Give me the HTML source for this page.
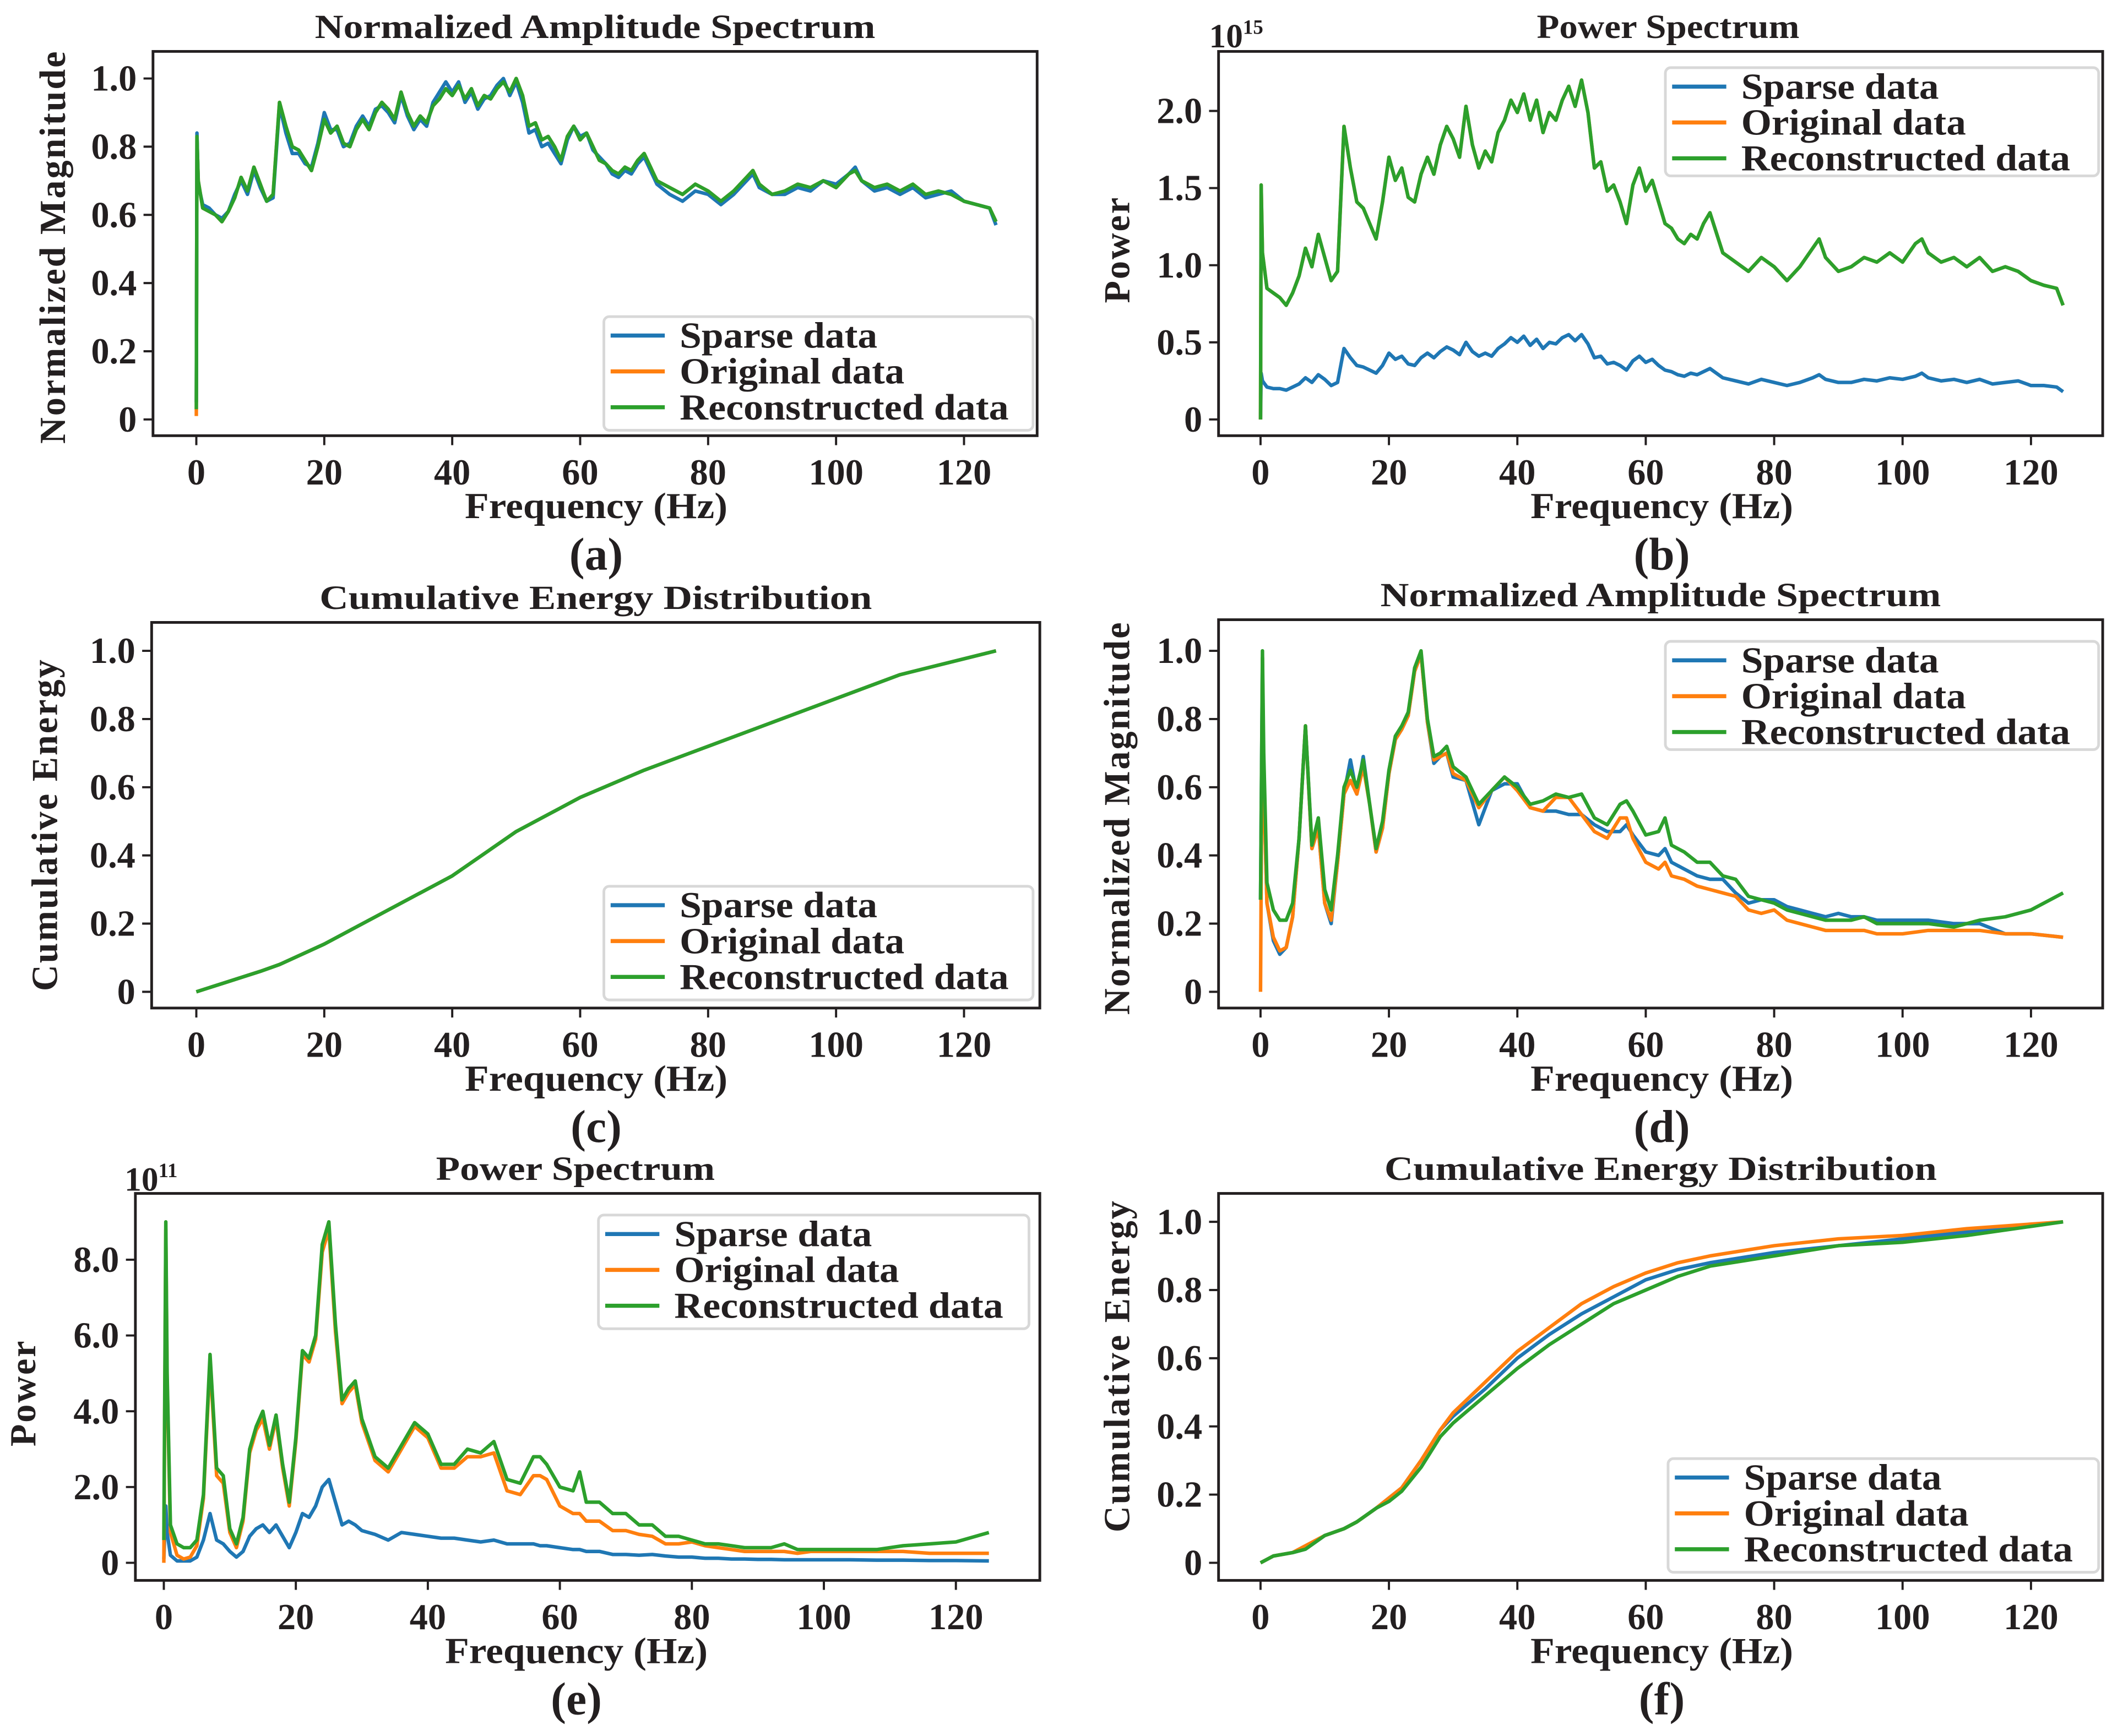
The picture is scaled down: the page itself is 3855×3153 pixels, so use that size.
<!DOCTYPE html>
<html><head><meta charset="utf-8"><style>
html,body{margin:0;padding:0;background:#fff}
svg{display:block}
text{font-family:"Liberation Serif",serif;font-weight:bold;fill:#231f20}
</style></head><body>
<svg id="fig" width="3855" height="3153" viewBox="0 0 1568 1283" preserveAspectRatio="none" xmlns="http://www.w3.org/2000/svg"></svg>
<script>
// ---- data ----
const freqA = [0,0.1,0.3,1,2,3,4,5,6,7,8,9,10,11,12,13,14,15,16,17,18,19,20,21,22,23,24,25,26,27,28,29,30,31,32,33,34,35,36,37,38,39,40,41,42,43,44,45,46,47,48,49,50,51,52,53,54,55,56,57,58,59,60,61,62,63,64,65,66,67,68,69,70,72,74,76,78,80,82,84,86,87,88,90,92,94,96,98,100,102,103,104,106,108,110,112,114,116,118,120,122,124,125];
const aRecon = [0.03,0.83,0.70,0.62,0.61,0.60,0.58,0.61,0.65,0.71,0.67,0.74,0.69,0.64,0.66,0.93,0.86,0.80,0.79,0.76,0.73,0.80,0.88,0.84,0.86,0.81,0.80,0.85,0.88,0.85,0.90,0.93,0.91,0.88,0.96,0.90,0.86,0.89,0.87,0.92,0.94,0.97,0.95,0.98,0.94,0.97,0.92,0.95,0.94,0.97,0.99,0.96,1.0,0.95,0.86,0.87,0.82,0.83,0.80,0.76,0.83,0.86,0.82,0.84,0.80,0.76,0.75,0.73,0.72,0.74,0.73,0.76,0.78,0.70,0.68,0.66,0.69,0.67,0.64,0.67,0.71,0.73,0.69,0.66,0.67,0.69,0.68,0.70,0.68,0.72,0.73,0.70,0.68,0.69,0.67,0.69,0.66,0.67,0.66,0.64,0.63,0.62,0.58];
const aOrig = [0.01,0.83,0.70,0.62,0.61,0.60,0.58,0.61,0.65,0.71,0.67,0.74,0.69,0.64,0.66,0.93,0.86,0.80,0.79,0.76,0.73,0.80,0.88,0.84,0.86,0.81,0.80,0.85,0.88,0.85,0.90,0.93,0.91,0.88,0.96,0.90,0.86,0.89,0.87,0.92,0.94,0.97,0.95,0.98,0.94,0.97,0.92,0.95,0.94,0.97,0.99,0.96,1.0,0.95,0.86,0.87,0.82,0.83,0.80,0.76,0.83,0.86,0.82,0.84,0.80,0.76,0.75,0.73,0.72,0.74,0.73,0.76,0.78,0.70,0.68,0.66,0.69,0.67,0.64,0.67,0.71,0.73,0.69,0.66,0.67,0.69,0.68,0.70,0.68,0.72,0.73,0.70,0.68,0.69,0.67,0.69,0.66,0.67,0.66,0.64,0.63,0.62,0.58];
const aSparse = [0.05,0.84,0.69,0.63,0.62,0.60,0.59,0.61,0.66,0.70,0.66,0.73,0.68,0.64,0.65,0.92,0.84,0.78,0.78,0.75,0.74,0.81,0.90,0.85,0.85,0.80,0.81,0.86,0.89,0.86,0.91,0.92,0.90,0.87,0.95,0.89,0.85,0.88,0.86,0.93,0.96,0.99,0.96,0.99,0.93,0.96,0.91,0.94,0.95,0.98,1.0,0.95,0.99,0.93,0.84,0.85,0.80,0.81,0.78,0.75,0.82,0.86,0.83,0.84,0.79,0.77,0.75,0.72,0.71,0.73,0.72,0.75,0.77,0.69,0.66,0.64,0.67,0.66,0.63,0.66,0.70,0.72,0.68,0.66,0.66,0.68,0.67,0.70,0.69,0.72,0.74,0.70,0.67,0.68,0.66,0.68,0.65,0.66,0.67,0.64,0.63,0.62,0.57];
const bRecon = [0.0,1.52,1.08,0.85,0.82,0.79,0.74,0.82,0.93,1.11,0.99,1.20,1.05,0.90,0.96,1.90,1.63,1.41,1.37,1.27,1.17,1.41,1.70,1.55,1.63,1.44,1.41,1.59,1.70,1.59,1.78,1.90,1.82,1.70,2.03,1.78,1.63,1.74,1.67,1.86,1.94,2.07,1.99,2.11,1.94,2.07,1.86,1.99,1.94,2.07,2.16,2.03,2.20,1.99,1.63,1.67,1.48,1.52,1.41,1.27,1.52,1.63,1.48,1.55,1.41,1.27,1.24,1.17,1.14,1.20,1.17,1.27,1.34,1.08,1.02,0.96,1.05,0.99,0.90,0.99,1.11,1.17,1.05,0.96,0.99,1.05,1.02,1.08,1.02,1.14,1.17,1.08,1.02,1.05,0.99,1.05,0.96,0.99,0.96,0.90,0.87,0.85,0.74];
const bSparse = [0.0,0.30,0.25,0.21,0.20,0.20,0.19,0.21,0.23,0.27,0.24,0.29,0.26,0.22,0.24,0.46,0.40,0.35,0.34,0.32,0.30,0.35,0.43,0.39,0.41,0.36,0.35,0.40,0.43,0.40,0.44,0.47,0.45,0.42,0.50,0.44,0.41,0.43,0.41,0.46,0.49,0.53,0.50,0.54,0.48,0.52,0.46,0.50,0.49,0.53,0.55,0.51,0.55,0.49,0.40,0.41,0.36,0.37,0.35,0.32,0.38,0.41,0.37,0.39,0.35,0.32,0.31,0.29,0.28,0.30,0.29,0.31,0.33,0.27,0.25,0.23,0.26,0.24,0.22,0.24,0.27,0.29,0.26,0.24,0.24,0.26,0.25,0.27,0.26,0.28,0.30,0.27,0.25,0.26,0.24,0.26,0.23,0.24,0.25,0.22,0.22,0.21,0.18];
const freqC = [0,5,10,13,20,30,40,50,55,60,70,80,90,100,110,125];
const cCum = [0,0.03,0.06,0.08,0.14,0.24,0.34,0.47,0.52,0.57,0.65,0.72,0.79,0.86,0.93,1.0];
const freqD = [0,0.3,0.5,1,2,3,4,5,6,7,8,9,10,11,12,13,14,15,16,17,18,19,20,21,22,23,24,25,26,27,28,29,30,32,34,36,38,40,42,44,46,48,50,52,54,56,57,58,60,62,63,64,66,68,70,72,74,76,78,80,82,84,86,88,90,92,94,96,98,100,104,108,112,116,120,125];
const dSparse = [0.27,0.98,0.6,0.26,0.15,0.11,0.13,0.22,0.45,0.78,0.42,0.48,0.26,0.20,0.38,0.58,0.68,0.58,0.69,0.55,0.41,0.48,0.64,0.74,0.77,0.81,0.94,0.99,0.79,0.67,0.69,0.70,0.63,0.62,0.49,0.59,0.61,0.61,0.54,0.53,0.53,0.52,0.52,0.49,0.47,0.47,0.49,0.46,0.41,0.40,0.42,0.38,0.36,0.34,0.33,0.33,0.29,0.26,0.27,0.27,0.25,0.24,0.23,0.22,0.23,0.22,0.22,0.21,0.21,0.21,0.21,0.20,0.20,0.17,0.17,0.16];
const dOrig = [0.0,0.98,0.6,0.26,0.16,0.12,0.13,0.22,0.45,0.78,0.42,0.48,0.26,0.21,0.38,0.58,0.62,0.58,0.66,0.55,0.41,0.48,0.64,0.74,0.77,0.81,0.94,0.99,0.79,0.68,0.69,0.70,0.64,0.62,0.54,0.59,0.63,0.59,0.54,0.53,0.57,0.57,0.52,0.47,0.45,0.51,0.51,0.45,0.38,0.36,0.38,0.34,0.33,0.31,0.30,0.29,0.28,0.24,0.23,0.24,0.21,0.20,0.19,0.18,0.18,0.18,0.18,0.17,0.17,0.17,0.18,0.18,0.18,0.17,0.17,0.16];
const dRecon = [0.27,1.0,0.7,0.32,0.24,0.21,0.21,0.26,0.45,0.78,0.43,0.51,0.30,0.24,0.40,0.60,0.65,0.60,0.68,0.55,0.42,0.50,0.65,0.75,0.78,0.82,0.95,1.0,0.80,0.69,0.70,0.72,0.66,0.63,0.55,0.59,0.63,0.60,0.55,0.56,0.58,0.57,0.58,0.51,0.49,0.55,0.56,0.53,0.46,0.47,0.51,0.43,0.41,0.38,0.38,0.34,0.33,0.28,0.27,0.26,0.24,0.23,0.22,0.21,0.21,0.21,0.22,0.20,0.20,0.20,0.20,0.19,0.21,0.22,0.24,0.29];
const eSparse = [0.1,1.5,0.8,0.2,0.05,0.05,0.05,0.15,0.6,1.3,0.6,0.5,0.3,0.15,0.3,0.7,0.9,1.0,0.8,1.0,0.7,0.4,0.8,1.3,1.2,1.5,2.0,2.2,1.6,1.0,1.1,1.0,0.85,0.75,0.6,0.8,0.75,0.7,0.65,0.65,0.6,0.55,0.6,0.5,0.5,0.5,0.45,0.45,0.4,0.35,0.35,0.3,0.3,0.22,0.22,0.2,0.22,0.18,0.15,0.15,0.12,0.12,0.1,0.1,0.09,0.09,0.08,0.08,0.08,0.08,0.08,0.07,0.07,0.06,0.06,0.05];
const eOrig = [0.0,8.8,4.8,0.8,0.2,0.1,0.15,0.45,1.7,5.3,2.3,2.1,0.8,0.4,1.1,2.9,3.5,3.8,3.0,3.8,2.5,1.5,3.2,5.5,5.3,5.9,8.2,8.8,6.1,4.2,4.5,4.7,3.7,2.7,2.4,3.0,3.6,3.3,2.5,2.5,2.8,2.8,2.9,1.9,1.8,2.3,2.3,2.2,1.5,1.3,1.3,1.1,1.1,0.85,0.85,0.75,0.7,0.5,0.5,0.55,0.45,0.4,0.35,0.3,0.3,0.3,0.3,0.25,0.3,0.3,0.3,0.3,0.3,0.25,0.25,0.25];
const eRecon = [0.6,9.0,5.0,1.0,0.5,0.4,0.4,0.6,1.8,5.5,2.5,2.3,0.9,0.5,1.2,3.0,3.6,4.0,3.1,3.9,2.6,1.6,3.3,5.6,5.4,6.0,8.4,9.0,6.3,4.3,4.6,4.8,3.8,2.8,2.5,3.1,3.7,3.4,2.6,2.6,3.0,2.9,3.2,2.2,2.1,2.8,2.8,2.6,2.0,1.9,2.4,1.6,1.6,1.3,1.3,1.0,1.0,0.7,0.7,0.6,0.5,0.5,0.45,0.4,0.4,0.4,0.5,0.35,0.35,0.35,0.35,0.35,0.45,0.5,0.55,0.8];
const freqF = [0,2,5,7,10,13,15,18,20,22,25,28,30,35,40,45,50,55,60,65,70,80,90,100,110,125];
const fSparse = [0,0.02,0.03,0.04,0.08,0.10,0.12,0.16,0.19,0.22,0.30,0.39,0.43,0.51,0.60,0.67,0.73,0.78,0.83,0.86,0.88,0.91,0.93,0.95,0.97,1.0];
const fOrig = [0,0.02,0.03,0.05,0.08,0.10,0.12,0.16,0.19,0.22,0.30,0.39,0.44,0.53,0.62,0.69,0.76,0.81,0.85,0.88,0.90,0.93,0.95,0.96,0.98,1.0];
const fRecon = [0,0.02,0.03,0.04,0.08,0.10,0.12,0.16,0.18,0.21,0.28,0.37,0.41,0.49,0.57,0.64,0.70,0.76,0.80,0.84,0.87,0.90,0.93,0.94,0.96,1.0];
const xTicks = [0,20,40,60,80,100,120];
const yTicksNorm = [0,0.2,0.4,0.6,0.8,1.0];
const yTickLabelsNorm = ["0","0.2","0.4","0.6","0.8","1.0"];
const yTicksB = [0,0.5,1.0,1.5,2.0];
const yTickLabelsB = ["0","0.5","1.0","1.5","2.0"];
const yTicksE = [0,2,4,6,8];
const yTickLabelsE = ["0","2.0","4.0","6.0","8.0"];
const legendLabels = ["Sparse data","Original data","Reconstructed data"];
const COLORS = ["#1f77b4","#ff7f0e","#2ca02c"];

// ---- drawing ----
const NS="http://www.w3.org/2000/svg";
const svg=document.getElementById('fig');
function mk(tag,attrs,parent){const e=document.createElementNS(NS,tag);for(const k in attrs)e.setAttribute(k,attrs[k]);(parent||svg).appendChild(e);return e;}
function txt(s,attrs,parent){const e=mk('text',attrs,parent);e.textContent=s;return e;}

function panel(cfg){
  const g=mk('g',{});
  
  
  const [L,T,R,B]=cfg.frame;
  const xs=f=>cfg.x0+f*cfg.kx;
  const ys=v=>cfg.y0-v*cfg.ky;
  // series
  cfg.series.forEach((s,i)=>{
    let d='';
    s.vals.forEach((v,j)=>{d+=(j?'L':'M')+xs(s.freq[j]).toFixed(2)+' '+ys(v).toFixed(2);});
    const p=mk('path',{d:d,fill:'none',stroke:COLORS[s.c],'stroke-width':2.6,'stroke-linejoin':'round'},g);
    
    
  });
  // frame
  const fr=mk('rect',{x:L,y:T,width:R-L,height:B-T,fill:'none',stroke:'#231f20','stroke-width':2},g);
  
  
  // x ticks
  xTicks.forEach(t=>{
    const x=xs(t);
    mk('line',{x1:x,x2:x,y1:B,y2:B+7,stroke:'#231f20','stroke-width':1.6},g);
    const tl=txt(String(t),{x:x,y:B+36,'font-size':27,'text-anchor':'middle'},g);
    
    
  });
  cfg.yt.forEach((t,i)=>{
    const y=ys(t);
    mk('line',{x1:L-7,x2:L,y1:y,y2:y,stroke:'#231f20','stroke-width':1.6},g);
    const tl=txt(cfg.ytl[i],{x:L-12,y:y+9,'font-size':27,'text-anchor':'end'},g);
    
    
  });
  const cx=(L+R)/2;
  const ti=txt(cfg.title,{x:cfg.titleX||cx,y:T-10,'font-size':25,'text-anchor':'middle',textLength:cfg.titleLen,lengthAdjust:'spacingAndGlyphs'},g);
  
  
  const xl=txt('Frequency (Hz)',{x:cfg.x0+62.5*cfg.kx,y:B+61,'font-size':27,'text-anchor':'middle',textLength:194,lengthAdjust:'spacingAndGlyphs'},g);
  
  
  const yl=txt(cfg.ylab,{x:0,y:0,'font-size':27,'text-anchor':'middle',textLength:cfg.ylen,lengthAdjust:'spacing',transform:`translate(${cfg.ylx},${cfg.lyc}) rotate(-90)`},g);
  
  
  const sl=txt('('+cfg.id+')',{x:cfg.x0+62.5*cfg.kx,y:B+99,'font-size':34,'text-anchor':'middle'},g);
  
  
  if(cfg.exp){
    const ex=txt('10',{x:cfg.exp[0],y:cfg.exp[1],'font-size':25},g);
    
    
    const ts=mk('tspan',{dy:-10,'font-size':15},ex);ts.textContent=cfg.expv;
  }
  // legend
  const [lx,ly,lw,lh]=cfg.leg;
  const lg=mk('g',{},g);
  
  
  mk('rect',{x:lx,y:ly,width:lw,height:lh,rx:4,fill:'#fff','fill-opacity':0.85,stroke:'#d8d8d8','stroke-width':2},lg);
  legendLabels.forEach((lab,i)=>{
    const yy=ly+14+i*26.5;
    const ln=mk('line',{x1:lx+5,x2:lx+45,y1:yy,y2:yy,stroke:COLORS[i],'stroke-width':3},lg);
    
    
    const lens=[146,166,243];
    const t=txt(lab,{x:lx+56,y:yy+9,'font-size':27,textLength:lens[i],lengthAdjust:'spacingAndGlyphs'},lg);
    
    
  });
}

panel({id:'a',frame:[113,38,766,322],x0:145,kx:4.725,y0:310,ky:252,yt:yTicksNorm,ytl:yTickLabelsNorm,
  title:'Normalized Amplitude Spectrum',titleLen:414,ylab:'Normalized Magnitude',ylen:290,ylx:48,lyc:183,
  leg:[446,234,317,84],
  series:[{freq:freqA,vals:aOrig,c:1},{freq:freqA,vals:aSparse,c:0},{freq:freqA,vals:aRecon,c:2}]});
panel({id:'b',frame:[900,38,1553,322],x0:931,kx:4.742,y0:310,ky:114,yt:yTicksB,ytl:yTickLabelsB,
  title:'Power Spectrum',titleLen:194,titleX:1232,ylab:'Power',ylen:78,ylx:834,lyc:185,exp:[893,35],expv:'15',
  leg:[1230,50,320,80],
  series:[{freq:freqA,vals:bSparse,c:0},{freq:freqA,vals:bRecon,c:1},{freq:freqA,vals:bRecon,c:2}]});
panel({id:'c',frame:[112,460,768,745],x0:145,kx:4.725,y0:733,ky:252,yt:yTicksNorm,ytl:yTickLabelsNorm,
  title:'Cumulative Energy Distribution',titleLen:408,ylab:'Cumulative Energy',ylen:245,ylx:42,lyc:610,
  leg:[446,655,317,84],
  series:[{freq:freqC,vals:cCum,c:0},{freq:freqC,vals:cCum,c:1},{freq:freqC,vals:cCum,c:2}]});
panel({id:'d',frame:[900,458,1553,745],x0:931,kx:4.742,y0:733,ky:252,yt:yTicksNorm,ytl:yTickLabelsNorm,
  title:'Normalized Amplitude Spectrum',titleLen:414,ylab:'Normalized Magnitude',ylen:290,ylx:834,lyc:605,
  leg:[1230,474,320,80],
  series:[{freq:freqD,vals:dSparse,c:0},{freq:freqD,vals:dOrig,c:1},{freq:freqD,vals:dRecon,c:2}]});
panel({id:'e',frame:[100,882,768,1168],x0:121,kx:4.875,y0:1155,ky:28,yt:yTicksE,ytl:yTickLabelsE,
  title:'Power Spectrum',titleLen:206,titleX:425,ylab:'Power',ylen:78,ylx:26,lyc:1030,exp:[92,880],expv:'11',
  leg:[442,898,318,84],
  series:[{freq:freqD,vals:eSparse,c:0},{freq:freqD,vals:eOrig,c:1},{freq:freqD,vals:eRecon,c:2}]});
panel({id:'f',frame:[900,882,1553,1168],x0:931,kx:4.742,y0:1155,ky:252,yt:yTicksNorm,ytl:yTickLabelsNorm,
  title:'Cumulative Energy Distribution',titleLen:408,ylab:'Cumulative Energy',ylen:245,ylx:834,lyc:1010,
  leg:[1232,1078,318,84],
  series:[{freq:freqF,vals:fSparse,c:0},{freq:freqF,vals:fOrig,c:1},{freq:freqF,vals:fRecon,c:2}]});
</script>
</body></html>
